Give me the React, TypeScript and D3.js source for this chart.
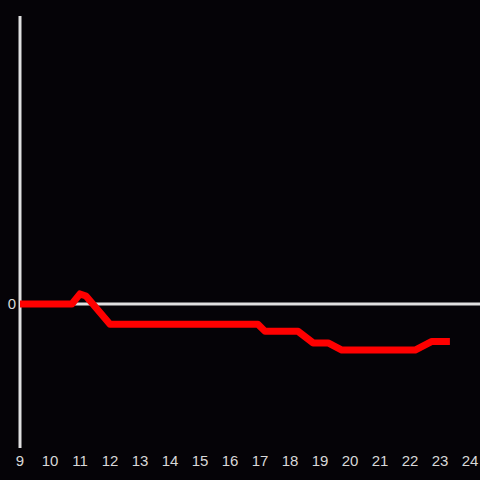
import React from "react";
import * as d3 from "d3";

const hours = [9, 10.73, 11.0, 11.2, 12.0, 16.93, 17.17, 18.27, 18.77, 19.27, 19.73, 22.17, 22.73, 23.33];
const values = [0, 0, 0.07, 0.055, -0.14, -0.14, -0.19, -0.19, -0.27, -0.27, -0.32, -0.32, -0.26, -0.26];
const xTicks = [9, 10, 11, 12, 13, 14, 15, 16, 17, 18, 19, 20, 21, 22, 23, 24];
const yTicks = [0];

export default function App() {
  const W = 480, H = 480;
  const x = d3.scaleLinear().domain([9, 24]).range([20, 470]);
  const y = d3.scaleLinear().domain([-1, 2]).range([448, 16]);
  const data = hours.map((h, i) => [h, values[i]] as [number, number]);
  const line = d3.line<[number, number]>().x(d => x(d[0])).y(d => y(d[1]));
  return (
    <svg width={W} height={H} style={{ position: "fixed", left: 0, top: 0, display: "block" }}
      fontFamily="'Liberation Sans', Arial, sans-serif">
      <rect x={0} y={0} width={W} height={H} fill="#050307" />
      <line x1={x(9)} x2={x(9)} y1={16} y2={448} stroke="#e0e0e0" strokeWidth={3} />
      {yTicks.map(t => (
        <g key={t}>
          <line x1={x(9)} x2={W} y1={y(t)} y2={y(t)} stroke="#e0e0e0" strokeWidth={3} />
          <text x={16} y={y(t)} dy="0.35em" textAnchor="end" fill="#d8d8d8" fontSize={15}>{t}</text>
        </g>
      ))}
      {xTicks.map(t => (
        <text key={t} x={x(t)} y={466} textAnchor="middle" fill="#d8d8d8" fontSize={15}>{t}</text>
      ))}
      <path d={line(data) || ""} fill="none" stroke="#ff0000" strokeWidth={7} strokeLinejoin="round" strokeLinecap="butt" />
    </svg>
  );
}
